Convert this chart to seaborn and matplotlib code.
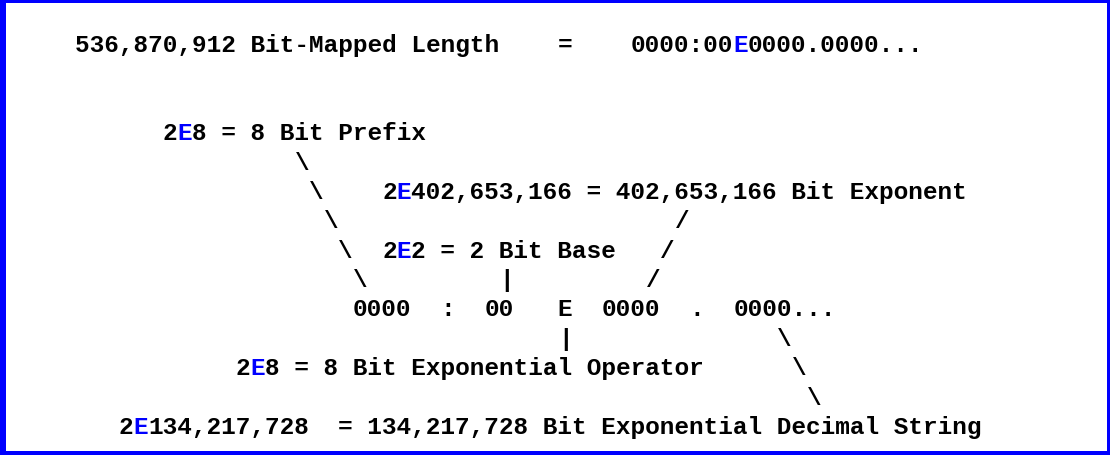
import re
import matplotlib
matplotlib.use("Agg")
import matplotlib.pyplot as plt
import seaborn as sns

# Diagram lines, monospaced; "~" marks the next character as blue
diagram_lines = [
    "536,870,912 Bit-Mapped Length    =    0000:00~E0000.0000...",
    "",
    "",
    "      2~E8 = 8 Bit Prefix",
    "               \\",
    "                \\    2~E402,653,166 = 402,653,166 Bit Exponent",
    "                 \\                       /",
    "                  \\  2~E2 = 2 Bit Base   /",
    "                   \\         |         /",
    "                   0000  :  00   E  0000  .  0000...",
    "                                 |              \\",
    "           2~E8 = 8 Bit Exponential Operator      \\",
    "                                                  \\",
    "   2~E134,217,728  = 134,217,728 Bit Exponential Decimal String",
]

text_color = "black"
mark_color = "#0000FF"
border_color = "#0000FF"

# Layout in pixels
W, H = 1110, 455
left_x = 75
first_y = 43
line_pitch = 29.38
char_w = 14.63

sns.set_theme(style="white")
plt.rcParams['font.family'] = ['Liberation Mono', 'DejaVu Sans Mono']

fig = plt.figure(figsize=(W / 100, H / 100), dpi=100)
ax = fig.add_axes([0, 0, 1, 1])
ax.set_xlim(0, W)
ax.set_ylim(H, 0)
ax.axis("off")

font_pt = char_w / 0.6 * 72 / 100


def segments(line):
    # yield (column, text, colour) runs; split at colour changes and wide gaps
    chars, colors = [], []
    i = 0
    while i < len(line):
        if line[i] == "~":
            chars.append(line[i + 1])
            colors.append(mark_color)
            i += 2
        else:
            chars.append(line[i])
            colors.append(text_color)
            i += 1
    plain = "".join(chars)
    for m in re.finditer(r"\S+(?: \S+)*", plain):
        start = m.start()
        cur = colors[start]
        run_start = start
        for k in range(start, m.end() + 1):
            if k == m.end() or colors[k] != cur:
                yield run_start, plain[run_start:k], cur
                if k < m.end():
                    cur = colors[k]
                    run_start = k


for row, line in enumerate(diagram_lines):
    y = first_y + row * line_pitch
    for col, s, color in segments(line):
        ax.text(left_x + col * char_w, y, s, color=color, fontsize=font_pt,
                fontweight="bold", ha="left", va="center_baseline")

# Blue frame
ax.axvspan(0, 6, color=border_color, lw=0)
ax.axvspan(W - 3, W, color=border_color, lw=0)
ax.axhspan(0, 3, color=border_color, lw=0)
ax.axhspan(H - 4, H, color=border_color, lw=0)

fig.savefig("out.png", dpi=100)
